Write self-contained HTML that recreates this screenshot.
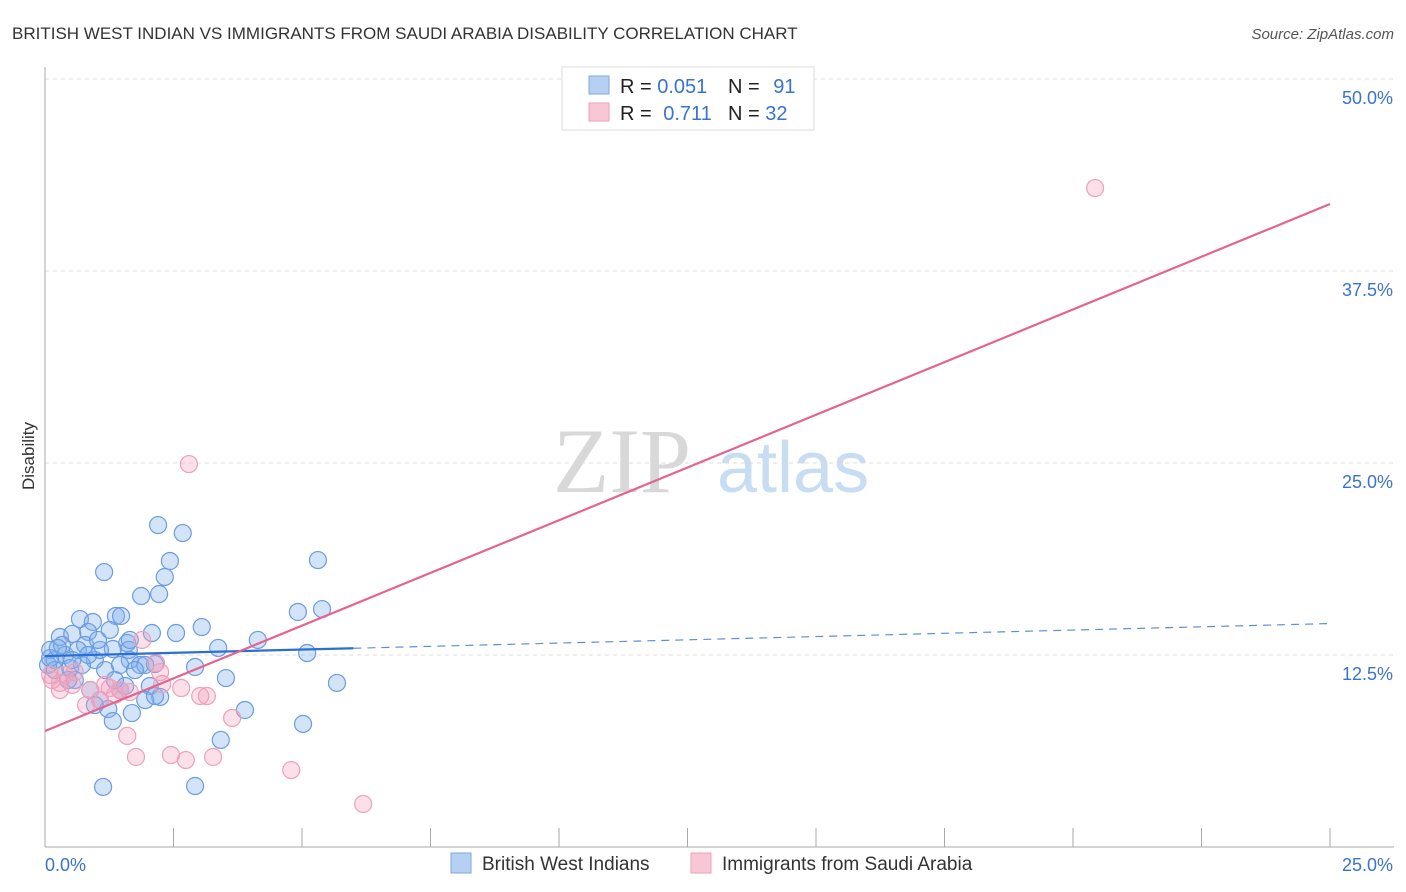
<!DOCTYPE html>
<html><head><meta charset="utf-8">
<style>
body{margin:0;background:#fff;font-family:"Liberation Sans",sans-serif;}
svg{display:block}
</style></head>
<body>
<svg id="chart" width="1406" height="892" xmlns="http://www.w3.org/2000/svg">
<text x="12" y="39" font-size="17" fill="#333">BRITISH WEST INDIAN VS IMMIGRANTS FROM SAUDI ARABIA DISABILITY CORRELATION CHART</text>
<text x="1394" y="39" font-size="15" fill="#555" text-anchor="end" font-style="italic">Source: ZipAtlas.com</text>
<text transform="translate(34,456) rotate(-90)" font-size="17" fill="#333" text-anchor="middle">Disability</text>
<g>
<text x="553" y="492" font-family="Liberation Serif,serif" font-size="92" fill="#d8d8d8">ZIP</text>
<text x="717" y="492" font-size="72" fill="#c8dcf2">atlas</text>
</g>
<g id="grid"></g><g id="axes"></g><g id="pts"></g><g id="lines"></g>
<g>
<rect x="562" y="67" width="252" height="63" fill="#fff" stroke="#ddd"/>
<rect x="589" y="76" width="20" height="18" fill="#b5d0f3" stroke="#7fa7de"/>
<rect x="589" y="103" width="20" height="18" fill="#f8c7d6" stroke="#eca3bb"/>
<text x="620" y="93" font-size="20" fill="#222">R = <tspan fill="#3a73cf">0.051</tspan></text>
<text x="728" y="93" font-size="20" fill="#222">N = <tspan fill="#3a73cf" dx="8">91</tspan></text>
<text x="620" y="120" font-size="20" fill="#222">R = <tspan fill="#3a73cf" dx="6">0.711</tspan></text>
<text x="728" y="120" font-size="20" fill="#222">N = <tspan fill="#3a73cf">32</tspan></text>
</g>
<g>
<rect x="451" y="853" width="20" height="20" fill="#b5d0f3" stroke="#7fa7de"/>
<text x="482" y="870" font-size="19" fill="#333">British West Indians</text>
<rect x="691" y="853" width="20" height="20" fill="#f8c7d6" stroke="#eca3bb"/>
<text x="722" y="870" font-size="19" fill="#333">Immigrants from Saudi Arabia</text>
</g>
</svg>
<script>
const yTicks=[12.5,25,37.5,50];
const yTickLabels=["12.5%","25.0%","37.5%","50.0%"];
const xTickLabels=["0.0%","25.0%"];
const blueX=[2.20,2.68,2.43,5.31,2.33,1.15,1.87,2.22,1.38,1.48,4.92,5.39,0.68,0.93,2.08,2.55,3.05,0.84,0.29,0.53,4.14,3.37,1.60,5.10,2.92,2.14,1.63,1.32,1.56,5.68,3.52,3.89,1.23,1.69,1.32,5.02,3.42,1.13,2.92,2.04,2.24,1.95,2.14,0.10,0.19,0.06,0.39,0.49,0.58,0.78,0.97,1.07,1.17,1.36,1.46,1.65,1.85,0.88,0.33,0.64,1.03,1.26,0.19,0.45,0.72,0.10,0.25,1.46,1.07,0.97,1.95,1.75,0.84,0.53,1.65];
const blueY=[20.96,20.44,18.62,18.68,17.58,17.90,16.34,16.47,15.04,15.04,15.30,15.49,14.84,14.65,13.93,13.93,14.32,14.00,13.67,13.87,13.48,12.96,13.28,12.63,11.72,11.91,12.83,12.89,10.48,10.68,11.00,8.92,8.98,8.72,8.20,8.01,6.97,3.91,3.97,10.48,9.77,9.57,9.83,12.83,12.17,11.85,12.50,11.65,10.87,13.15,12.17,12.83,11.52,10.87,10.22,12.17,11.85,10.22,13.15,12.83,13.48,14.13,11.52,10.87,11.85,12.30,12.96,11.85,9.57,9.24,11.85,11.52,12.50,12.17,13.48];
const pinkX=[20.43,2.80,1.89,2.16,2.24,2.28,2.65,3.02,3.15,3.64,1.60,1.77,2.45,2.74,3.27,4.79,6.19,0.14,0.10,0.29,0.53,0.88,1.07,1.26,1.46,1.65,0.80,0.39,1.17,0.58,1.36,0.29];
const pinkY=[42.90,24.93,13.48,11.98,11.39,10.61,10.35,9.83,9.83,8.40,7.23,5.86,5.99,5.66,5.86,5.01,2.80,10.87,11.20,10.68,10.55,10.22,9.57,10.35,10.22,10.09,9.24,11.20,10.55,11.39,9.90,10.22];
const blueFit=[12.43,0.0847]; // intercept, slope
const blueSolidEnd=[6.0];
const pinkFit=[7.55,1.3724];

const NS="http://www.w3.org/2000/svg";
const X0=45,X1=1330,Y0=847,Y50=79;
const sx=v=>X0+(v/25)*(X1-X0);
const sy=v=>Y0-(v/50)*(Y0-Y50);
function mk(t,a,p){const e=document.createElementNS(NS,t);for(const k in a)e.setAttribute(k,a[k]);p.appendChild(e);return e;}
const grid=document.getElementById('grid'),axes=document.getElementById('axes'),pts=document.getElementById('pts'),lines=document.getElementById('lines');
yTicks.forEach((t,i)=>{
 const g=mk('line',{x1:X0,x2:1394,y1:sy(t),y2:sy(t),stroke:'#ddd','stroke-dasharray':'4,4'},grid);
 
 
 const l=mk('text',{x:1393,y:sy(t)+25,'font-size':18,fill:'#3a73cf','text-anchor':'end'},axes);
 l.textContent=yTickLabels[i];
 
 
});
const ax=mk('line',{x1:X0,x2:X0,y1:67,y2:Y0,stroke:'#aaa'},axes);


const bx=mk('line',{x1:X0,x2:1394,y1:Y0,y2:Y0,stroke:'#aaa'},axes);


for(let i=0;i<=10;i++){
 const tk=mk('line',{x1:sx(i*2.5),x2:sx(i*2.5),y1:828,y2:Y0,stroke:'#aaa'},axes);
 
 
}
[[0,'start',45],[25,'end',1393]].forEach((d,i)=>{
 const t=mk('text',{x:d[2],y:871,'font-size':18,fill:'#3a73cf','text-anchor':d[1]},axes);
 t.textContent=xTickLabels[i];
 
 
});
blueX.forEach((x,i)=>{
 const c=mk('circle',{cx:sx(x),cy:sy(blueY[i]),r:8.5,fill:'rgba(130,175,235,0.35)',stroke:'#6b9ce0','stroke-width':1.2},pts);
 
 
});
pinkX.forEach((x,i)=>{
 const c=mk('circle',{cx:sx(x),cy:sy(pinkY[i]),r:8.5,fill:'rgba(244,160,188,0.32)',stroke:'#eda0ba','stroke-width':1.2},pts);
 
 
});
const bf=x=>blueFit[0]+blueFit[1]*x, pf=x=>pinkFit[0]+pinkFit[1]*x;
const l1=mk('line',{x1:sx(0),y1:sy(bf(0)),x2:sx(blueSolidEnd[0]),y2:sy(bf(blueSolidEnd[0])),stroke:'#2a6fd6','stroke-width':2.2},lines);


const l2=mk('line',{x1:sx(blueSolidEnd[0]),y1:sy(bf(blueSolidEnd[0])),x2:sx(25),y2:sy(bf(25)),stroke:'#5b8fd9','stroke-width':1.2,'stroke-dasharray':'8,6'},lines);


const l3=mk('line',{x1:sx(0),y1:sy(pf(0)),x2:sx(25),y2:sy(pf(25)),stroke:'#e5648f','stroke-width':2.2},lines);


</script>
</body></html>
